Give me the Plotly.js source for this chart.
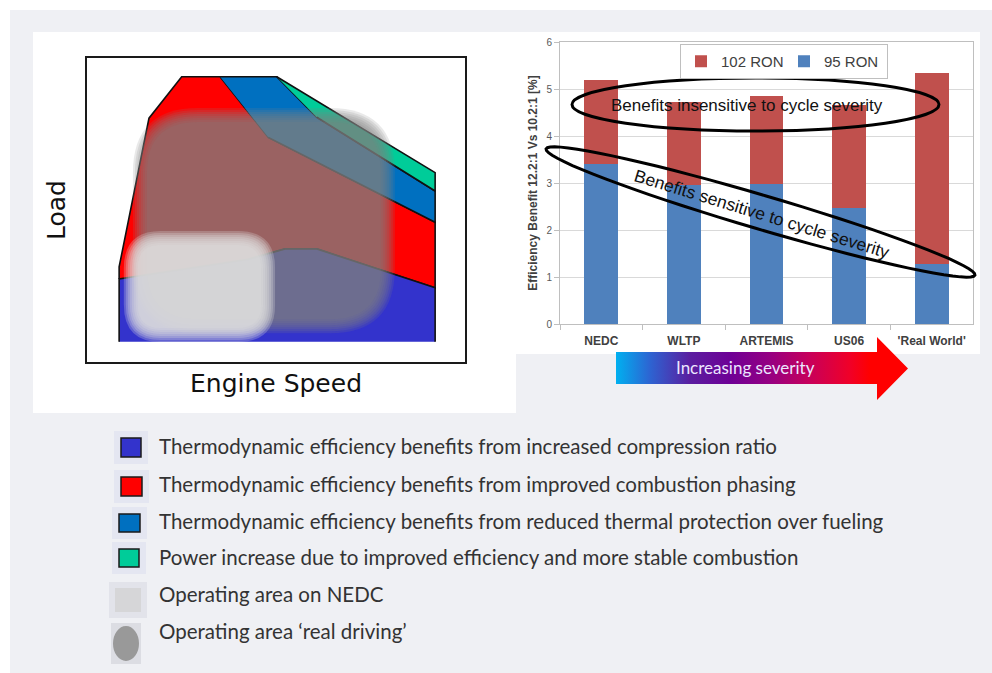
<!DOCTYPE html>
<html><head><meta charset="utf-8">
<script src="https://cdn.plot.ly/plotly-3.0.1.min.js"></script>
<style>html,body{margin:0;padding:0;background:#fff}#chart{width:992px;height:673px}</style>
</head><body><div id="chart"></div><script>
// ---------- bar chart data ----------
const categories = ['NEDC', 'WLTP', 'ARTEMIS', 'US06', "'Real World'"];
const ron95 = [3.40, 2.95, 2.97, 2.47, 1.28];
const ron102 = [1.80, 1.77, 1.88, 2.18, 4.07];
const seriesNames = ['95 RON', '102 RON'];
const yTicks = [0, 1, 2, 3, 4, 5, 6];

// ---------- engine map regions (Engine Speed %, Load %) ----------
const compressionX = [8.5, 8.5, 42.7, 52.4, 60.8, 92.1, 92.1];
const compressionY = [6.7, 27.3, 33.8, 37.2, 37.2, 24.4, 6.7];
const phasingX = [8.5, 8.5, 16.4, 25.05, 35.2, 47.96, 92.1, 92.1, 60.8, 52.4, 42.7];
const phasingY = [27.3, 31.3, 80.2, 93.85, 93.85, 73.9, 45.95, 24.4, 37.2, 37.2, 33.8];
const thermalX = [35.2, 50.2, 60.8, 92.1, 92.1, 47.96];
const thermalY = [93.85, 93.85, 80.5, 56.25, 45.95, 73.9];
const powerX = [50.2, 92.1, 92.1, 60.8];
const powerY = [93.85, 62.3, 56.25, 80.5];
// operating areas [x0, y0, x1, y1] (Engine Speed %, Load %)
const realDrivingArea = [14.0, 11.8, 79.6, 81.25];
const nedcArea = [11.6, 8.9, 47.9, 40.8];

const legendLabels = [
  'Thermodynamic efficiency benefits from increased compression ratio',
  'Thermodynamic efficiency benefits from improved combustion phasing',
  'Thermodynamic efficiency benefits from reduced thermal protection over fueling',
  'Power increase due to improved efficiency and more stable combustion',
  'Operating area on NEDC',
  'Operating area \u2018real driving\u2019'
];
const legendColors = ['#3333cc', '#ff0000', '#0070c0', '#00cc99'];

// ---------- helpers ----------
const W = 992, H = 673;
const PX = x => x / W, PY = y => 1 - y / H;
const FONT = 'Liberation Sans, Arial, sans-serif';
const LFONT = 'Lato, sans-serif';

function rr(x0, y0, x1, y1, rx, ry) {
  return `M${x0+rx},${y0} L${x1-rx},${y0} Q${x1},${y0} ${x1},${y0+ry} L${x1},${y1-ry} Q${x1},${y1} ${x1-rx},${y1} L${x0+rx},${y1} Q${x0},${y1} ${x0},${y1-ry} L${x0},${y0+ry} Q${x0},${y0} ${x0+rx},${y0} Z`;
}
const UX = 3.78, UY = 3.04; // px per unit in engine map
function softBlob(area, rpx, color, alpha, shapes) {
  [-7, -5, -3, -1, 1, 3, 5, 7].forEach(d => {
    const dx = d / UX, dy = d / UY;
    shapes.push({type: 'path', xref: 'x', yref: 'y', layer: 'above',
      path: rr(area[0]+dx, area[1]+dy, area[2]-dx, area[3]-dy, Math.max(0.5, (rpx - d)/UX), Math.max(0.5, (rpx - d)/UY)),
      fillcolor: color, opacity: alpha, line: {width: 0}});
  });
}

// ---------- traces ----------
const polyStyle = (x, y, c) => ({type: 'scatter', mode: 'lines', x, y, fill: 'toself', fillcolor: c,
  line: {color: '#111', width: 1.6}, xaxis: 'x', yaxis: 'y', showlegend: false, hoverinfo: 'skip'});

const arrowX = [616, 877, 877, 908, 877, 877, 616];
const arrowY = [352, 352, 337, 368.5, 400, 384, 384];

const data = [
  polyStyle(phasingX, phasingY, '#ff0000'),
  polyStyle(compressionX, compressionY, '#3333cc'),
  polyStyle(thermalX, thermalY, '#0070c0'),
  polyStyle(powerX, powerY, '#00cc99'),
  {type: 'bar', name: seriesNames[0], x: categories, y: ron95, marker: {color: '#4f81bd'}, xaxis: 'x2', yaxis: 'y2'},
  {type: 'bar', name: seriesNames[1], x: categories, y: ron102, marker: {color: '#c0504d'}, xaxis: 'x2', yaxis: 'y2'},
  {type: 'scatter', mode: 'lines', x: arrowX, y: arrowY, fill: 'toself', line: {width: 0},
   fillgradient: {type: 'horizontal', colorscale: [[0, '#00b0f0'], [0.116, '#2d64d2'], [0.253, '#5a1ea0'], [0.39, '#6e0096'], [0.527, '#960082'], [0.664, '#c8005a'], [0.8, '#f00028'], [0.87, '#ff0000'], [1, '#ff0000']]},
   xaxis: 'x3', yaxis: 'y3', showlegend: false, hoverinfo: 'skip'}
];

// ---------- shapes ----------
const shapes = [
  {type: 'rect', xref: 'paper', yref: 'paper', layer: 'below', x0: PX(10), x1: 1, y0: 0, y1: PY(10), fillcolor: '#eff0f4', line: {width: 0}},
  {type: 'rect', xref: 'paper', yref: 'paper', layer: 'below', x0: PX(33), x1: PX(516), y0: PY(413), y1: PY(32), fillcolor: '#ffffff', line: {width: 0}},
  {type: 'rect', xref: 'paper', yref: 'paper', layer: 'below', x0: PX(515), x1: PX(980), y0: PY(354), y1: PY(32), fillcolor: '#ffffff', line: {width: 0}},
];
softBlob(realDrivingArea, 58, 'rgb(128,128,128)', 0.172, shapes);
softBlob(nedcArea, 30, 'rgb(222,222,222)', 0.27, shapes);

// ellipses on bar chart
shapes.push({type: 'circle', xref: 'paper', yref: 'paper', x0: PX(572), x1: PX(939), y0: PY(131), y1: PY(78), line: {color: '#000', width: 3}});
(function () {
  const cx = 760.5, cy = 212, a = 223.5, b = 17, th = 16.4 * Math.PI / 180;
  let p = '';
  for (let i = 0; i <= 72; i++) {
    const t = i / 72 * 2 * Math.PI;
    const X = cx + a * Math.cos(t) * Math.cos(th) - b * Math.sin(t) * Math.sin(th);
    const Y = cy + a * Math.cos(t) * Math.sin(th) + b * Math.sin(t) * Math.cos(th);
    p += (i === 0 ? 'M' : 'L') + PX(X).toFixed(5) + ',' + PY(Y).toFixed(5) + ' ';
  }
  shapes.push({type: 'path', xref: 'paper', yref: 'paper', path: p + 'Z', line: {color: '#000', width: 3}});
})();

// bottom legend icons
const iconBoxes = [[121, 438, 141, 457], [121, 477, 142, 496], [119, 514, 140, 532], [119, 549, 139, 567]];
iconBoxes.forEach((b, i) => {
  shapes.push({type: 'rect', xref: 'paper', yref: 'paper', layer: 'below', x0: PX(b[0]-7), x1: PX(b[2]+7), y0: PY(b[3]+7), y1: PY(b[1]-7), fillcolor: '#dfe1ef', line: {width: 0}, opacity: 0.7});
  shapes.push({type: 'rect', xref: 'paper', yref: 'paper', x0: PX(b[0]), x1: PX(b[2]), y0: PY(b[3]), y1: PY(b[1]), fillcolor: legendColors[i], line: {color: '#1a1a1a', width: 1.5}});
});
shapes.push({type: 'rect', xref: 'paper', yref: 'paper', x0: PX(109), x1: PX(147), y0: PY(618), y1: PY(582), fillcolor: '#e2e3ea', line: {width: 0}});
shapes.push({type: 'rect', xref: 'paper', yref: 'paper', x0: PX(115), x1: PX(141), y0: PY(612), y1: PY(588), fillcolor: '#d6d6d8', line: {width: 0}});
shapes.push({type: 'rect', xref: 'paper', yref: 'paper', x0: PX(111), x1: PX(141), y0: PY(664), y1: PY(623), fillcolor: '#dcdde3', line: {width: 0}});
shapes.push({type: 'circle', xref: 'paper', yref: 'paper', x0: PX(113), x1: PX(139), y0: PY(661), y1: PY(626), fillcolor: '#999999', line: {width: 0}});

// ---------- annotations ----------
const legendYs = [446, 484, 521, 557, 594, 631];
const annotations = legendLabels.map((t, i) => ({xref: 'paper', yref: 'paper', x: PX(157), y: PY(legendYs[i]), xanchor: 'left', yanchor: 'middle',
  text: t, showarrow: false, font: {family: LFONT, size: 20.5, color: '#333'}}));
annotations.push({xref: 'paper', yref: 'paper', x: PX(747), y: PY(105), xanchor: 'center', yanchor: 'middle',
  text: 'Benefits insensitive to cycle severity', showarrow: false, font: {family: FONT, size: 17, color: '#111'}});
annotations.push({xref: 'paper', yref: 'paper', x: PX(762), y: PY(214), xanchor: 'center', yanchor: 'middle',
  text: 'Benefits sensitive to cycle severity', showarrow: false, textangle: 17, font: {family: FONT, size: 17.5, color: '#111'}});
annotations.push({xref: 'paper', yref: 'paper', x: PX(745), y: PY(368), xanchor: 'center', yanchor: 'middle',
  text: 'Increasing severity', showarrow: false, font: {family: LFONT, size: 17, color: '#ece6ff'}});

const layout = {
  width: W, height: H, margin: {l: 0, r: 0, t: 0, b: 0},
  paper_bgcolor: '#ffffff', plot_bgcolor: 'rgba(0,0,0,0)',
  showlegend: true, barmode: 'stack', bargap: 0.59,
  xaxis: {domain: [PX(87), PX(465)], range: [0, 100], showgrid: false, zeroline: false, showticklabels: false, ticks: '',
    showline: true, mirror: true, linecolor: '#1a1a1a', linewidth: 2, anchor: 'y',
    title: {text: 'Engine Speed', standoff: 11, font: {family: 'DejaVu Sans, sans-serif', size: 25, color: '#111'}}},
  yaxis: {domain: [PY(362), PY(58)], range: [0, 100], showgrid: false, zeroline: false, showticklabels: false, ticks: '',
    showline: true, mirror: true, linecolor: '#1a1a1a', linewidth: 2, anchor: 'x',
    title: {text: 'Load', standoff: 12, font: {family: 'DejaVu Sans, sans-serif', size: 25, color: '#111'}}},
  xaxis2: {domain: [PX(560), PX(973)], anchor: 'y2', type: 'category', showgrid: false, zeroline: false,
    showline: true, mirror: true, linecolor: '#bfbfbf', linewidth: 1, ticks: 'outside', tickson: 'boundaries', ticklen: 5, tickcolor: '#bfbfbf',
    ticklabelstandoff: 6, tickfont: {family: FONT, size: 12, color: '#404040', weight: 'bold'}},
  yaxis2: {domain: [PY(324), PY(42)], anchor: 'x2', range: [0, 6], tickvals: yTicks, showgrid: true, gridcolor: '#d9d9d9', zeroline: false,
    showline: true, mirror: true, linecolor: '#bfbfbf', linewidth: 1, ticks: 'outside', ticklen: 5, tickcolor: '#bfbfbf',
    tickfont: {family: FONT, size: 10, color: '#595959'},
    title: {text: 'Efficiency Benefit 12.2:1 Vs 10.2:1 [%]', standoff: 6, font: {family: FONT, size: 12, color: '#404040', weight: 'bold'}}},
  xaxis3: {domain: [0, 1], range: [0, W], visible: false, anchor: 'y3', fixedrange: true},
  yaxis3: {domain: [0, 1], range: [H, 0], visible: false, anchor: 'x3', fixedrange: true},
  legend: {x: PX(680), y: PY(44), xanchor: 'left', yanchor: 'top', orientation: 'h', traceorder: 'reversed',
    bgcolor: '#ffffff', bordercolor: '#bfbfbf', borderwidth: 1, itemwidth: 30, entrywidth: 58, entrywidthmode: 'pixels',
    font: {family: FONT, size: 15, color: '#404040'}},
  shapes, annotations
};

Plotly.newPlot('chart', data, layout, {displayModeBar: false, staticPlot: true});
</script></body></html>
